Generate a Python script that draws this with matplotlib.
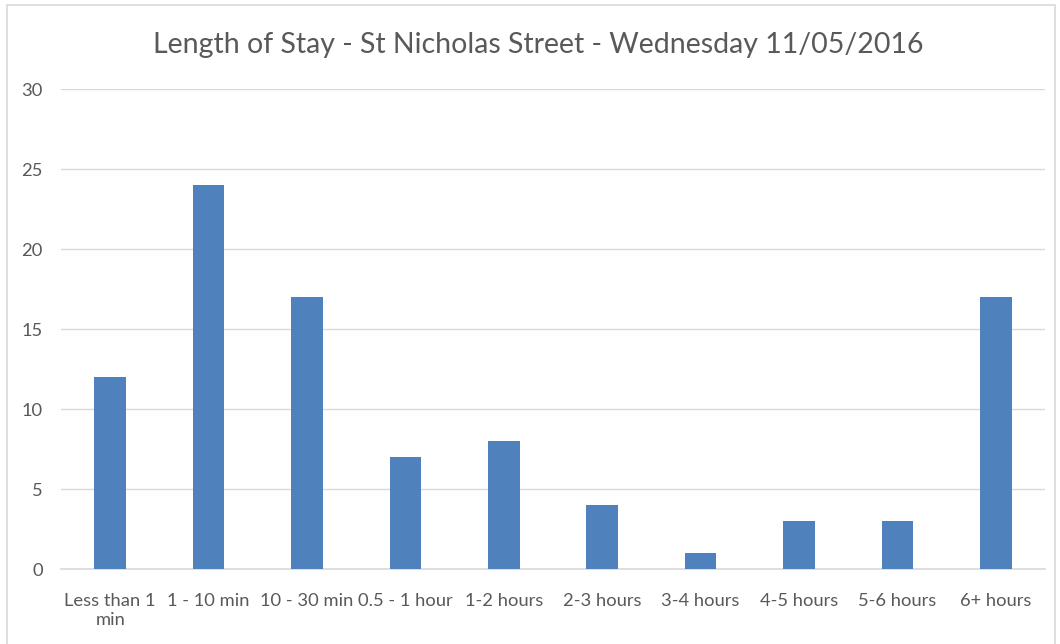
import matplotlib.pyplot as plt
from matplotlib.patches import Rectangle

categories = ['Less than 1\nmin', '1 - 10 min', '10 - 30 min', '0.5 - 1 hour', '1-2 hours',
              '2-3 hours', '3-4 hours', '4-5 hours', '5-6 hours', '6+ hours']
counts = [12, 24, 17, 7, 8, 4, 1, 3, 3, 17]
y_ticks = [0, 5, 10, 15, 20, 25, 30]

plt.rcParams['font.family'] = ['Lato', 'DejaVu Sans']

fig = plt.figure(figsize=(10.6, 6.44), dpi=100)
# outer chart border (partly cut off like the screenshot)
fig.patches.append(Rectangle((7 / 1060, -0.05), (1055 - 7) / 1060, 1.05 - 5 / 644,
                             transform=fig.transFigure, fill=False,
                             edgecolor='#D9D9D9', linewidth=1.2))

ax = fig.add_axes([61 / 1060, 1 - 569 / 644, (1045 - 61) / 1060, (569 - 89) / 644])
x = range(len(categories))
ax.bar(x, counts, width=0.32, color='#4F81BD', zorder=3)

ax.set_xlim(-0.5, len(categories) - 0.5)
ax.set_ylim(0, 30)
ax.set_yticks(y_ticks)
ax.set_xticks(list(x))
ax.set_xticklabels(categories, fontsize=13.2, color='#595959', linespacing=1.25)
ax.tick_params(axis='y', labelsize=13.2, labelcolor='#595959', length=0, pad=13)
ax.tick_params(axis='x', length=0, pad=17)
ax.grid(axis='y', color='#D9D9D9', linewidth=1, zorder=0)
for s in ['top', 'right', 'left']:
    ax.spines[s].set_visible(False)
ax.spines['bottom'].set_color('#D9D9D9')
ax.spines['bottom'].set_linewidth(1.2)

fig.text(538 / 1060, 1 - 45 / 644, 'Length of Stay - St Nicholas Street - Wednesday 11/05/2016',
         ha='center', va='center', fontsize=20.5, color='#595959')

fig.savefig('out.png', dpi=100)
